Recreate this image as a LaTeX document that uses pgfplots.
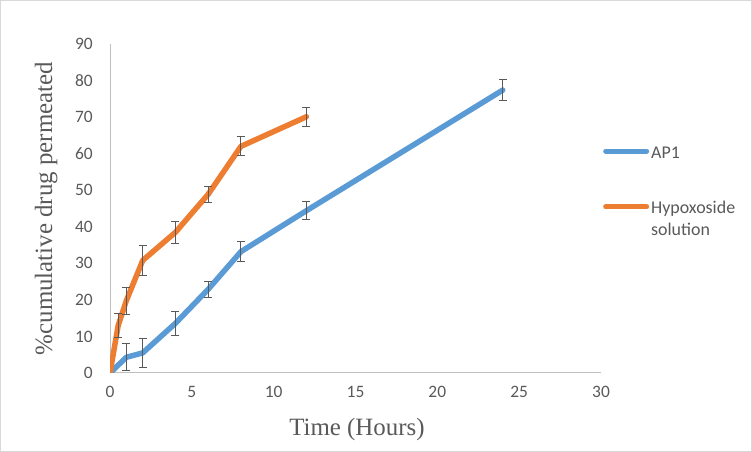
\documentclass[border=0pt]{standalone}
\usepackage{pgfplots}
\pgfplotsset{compat=1.18}
\usepackage{fontspec}
\setmainfont{Carlito}
\newfontfamily\tnr{Liberation Serif}
\definecolor{apblue}{HTML}{5B9BD5}
\definecolor{hyorange}{HTML}{ED7D31}
\definecolor{txtgray}{HTML}{595959}
\definecolor{axgray}{HTML}{BFBFBF}
\definecolor{bordergray}{HTML}{D9D9D9}
\begin{document}
\begin{tikzpicture}
\useasboundingbox (0,0) rectangle (752bp,452bp);
\draw[bordergray, line width=1bp] (0.5bp,0.5bp) rectangle (751.5bp,451.5bp);
\begin{axis}[
  at={(110bp,79bp)}, anchor=south west,
  scale only axis, width=491bp, height=329bp,
  xmin=0, xmax=30, ymin=0, ymax=90,
  xtick={0,5,...,30}, ytick={0,10,...,90},
  axis x line*=bottom, axis y line*=left,
  axis line style={-, draw=axgray, line width=1bp},
  major tick length=0,
  /pgf/number format/assume math mode=true,
  tick label style={font=\fontsize{17.5}{20}\selectfont, text=txtgray},
  yticklabel style={anchor=east, inner sep=0pt, xshift=-17bp},
  xticklabel style={anchor=north, inner sep=0pt, yshift=-13bp},
  xlabel={Time (Hours)},
  ylabel={\%cumulative drug permeated},
  label style={font=\tnr\fontsize{25}{28}\selectfont, text=txtgray},
  xlabel style={at={(axis description cs:0.503,-0.173)}, anchor=center},
  ylabel style={at={(axis description cs:-0.13,0.5)}, anchor=center, rotate=0},
  legend cell align=left,
  legend style={draw=none, fill=none, at={(1.004,0.695)}, anchor=north west,
    inner xsep=0pt, inner ysep=0pt, row sep=35bp,
    font=\fontsize{18}{22}\selectfont, text=txtgray,
    cells={anchor=base west},
    nodes={inner xsep=2bp}},
  legend image code/.code={\draw[#1, line width=5bp, line cap=round] (1bp,7bp) -- (42bp,7bp);},
]
\addplot[apblue, line width=5.5bp, line join=round, line cap=round,
  error bars/.cd, y dir=both, y explicit,
  error bar style={txtgray, line width=1bp, line cap=butt},
  error mark options={rotate=90, mark size=4bp, txtgray, line width=1bp}]
  table[x=x, y=y, y error=e] {
x y e
0 0 0
1 4.3 3.7
2 5.5 4.0
4 13.6 3.3
6 22.9 2.2
8 33.2 2.7
12 44.4 2.4
24 77.4 2.8
};
\addlegendentry{AP1}
\addplot[hyorange, line width=5.5bp, line join=round, line cap=round,
  error bars/.cd, y dir=both, y explicit,
  error bar style={txtgray, line width=1bp, line cap=butt},
  error mark options={rotate=90, mark size=4bp, txtgray, line width=1bp}]
  table[x=x, y=y, y error=e] {
x y e
0 0 0
0.5 13 3.2
1 19.8 3.7
2 30.8 4.0
4 38.5 3.0
6 48.9 2.2
8 62 2.6
12 70.1 2.6
};
\addlegendentry{\begin{tabular}[t]{@{}l@{}}Hypoxoside\\solution\end{tabular}}
\end{axis}
\end{tikzpicture}
\end{document}
